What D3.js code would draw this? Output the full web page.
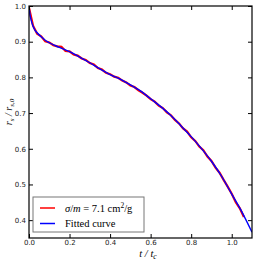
<!DOCTYPE html>
<html><head><meta charset="utf-8">
<script src="https://cdn.jsdelivr.net/npm/d3@7"></script>
<style>body{margin:0;background:#fff}</style>
</head><body>
<svg id="c" width="256" height="262"></svg>
<script>
const xTicks = [0.0, 0.2, 0.4, 0.6, 0.8, 1.0];
const yTicks = [0.4, 0.5, 0.6, 0.7, 0.8, 0.9, 1.0];
const dataT = [0.00,0.02,0.04,0.06,0.08,0.10,0.12,0.14,0.16,0.18,0.20,0.22,0.24,0.26,0.28,0.30,0.32,0.34,0.36,0.38,0.40,0.42,0.44,0.46,0.48,0.50,0.52,0.54,0.56,0.58,0.60,0.62,0.64,0.66,0.68,0.70,0.72,0.74,0.76,0.78,0.80,0.82,0.84,0.86,0.88,0.90,0.92,0.94,0.96,0.98,1.00,1.02,1.04,1.06];
const dataR = [0.995,0.945,0.922,0.915,0.901,0.898,0.890,0.887,0.886,0.874,0.873,0.864,0.861,0.853,0.849,0.840,0.836,0.826,0.822,0.813,0.809,0.802,0.799,0.791,0.786,0.777,0.773,0.764,0.757,0.749,0.739,0.732,0.721,0.714,0.702,0.694,0.681,0.671,0.657,0.648,0.632,0.622,0.606,0.596,0.578,0.566,0.547,0.533,0.513,0.494,0.474,0.450,0.433,0.409];
const fitT = [0.00,0.005,0.01,0.02,0.03,0.04,0.06,0.08,0.10,0.15,0.20,0.25,0.30,0.35,0.40,0.45,0.50,0.55,0.60,0.65,0.70,0.75,0.80,0.85,0.90,0.95,1.00,1.05,1.10];
const fitR = [1.000,0.975,0.962,0.943,0.932,0.925,0.914,0.904,0.897,0.884,0.872,0.857,0.841,0.824,0.808,0.795,0.779,0.762,0.740,0.718,0.693,0.664,0.634,0.601,0.565,0.523,0.473,0.423,0.366];
const seriesNames = ["σ/m = 7.1 cm²/g", "Fitted curve"];

const svg = d3.select("#c");
const L = 29, R = 252, T = 6, B = 238;
const x = d3.scaleLinear().domain([0, 1.1]).range([L, R]);
const y = d3.scaleLinear().domain([0.35, 1.0]).range([B, T]);

svg.append("defs").append("clipPath").attr("id","clip")
  .append("rect").attr("x",L).attr("y",T).attr("width",R-L).attr("height",B-T);

const g = svg.append("g").attr("clip-path","url(#clip)");
g.append("path").datum(dataT.map((t,i)=>[t,dataR[i]]))
  .attr("d", d3.line().x(d=>x(d[0])).y(d=>y(d[1])))
  .attr("fill","none").attr("stroke","#ff0000").attr("stroke-width",2.2);
g.append("path").datum(fitT.map((t,i)=>[t,fitR[i]]))
  .attr("d", d3.line().x(d=>x(d[0])).y(d=>y(d[1])).curve(d3.curveMonotoneX))
  .attr("fill","none").attr("stroke","#0000ff").attr("stroke-width",1.4);

// axes with inward ticks
const font = "DejaVu Sans";
const ax = (sel) => sel.selectAll("text").attr("font-family",font).attr("font-size",7).attr("fill","#222");
svg.append("g").attr("transform",`translate(0,${B})`)
  .call(d3.axisBottom(x).tickValues(xTicks).tickFormat(d3.format(".1f")).tickSizeInner(-4).tickSizeOuter(0).tickPadding(2))
  .call(s=>s.select(".domain").remove()).call(ax);
svg.append("g").attr("transform",`translate(0,${T})`)
  .call(d3.axisTop(x).tickValues(xTicks).tickFormat("").tickSizeInner(-4).tickSizeOuter(0))
  .call(s=>s.select(".domain").remove());
svg.append("g").attr("transform",`translate(${L},0)`)
  .call(d3.axisLeft(y).tickValues(yTicks).tickFormat(d3.format(".1f")).tickSizeInner(-4).tickSizeOuter(0).tickPadding(3))
  .call(s=>s.select(".domain").remove()).call(ax);
svg.append("g").attr("transform",`translate(${R},0)`)
  .call(d3.axisRight(y).tickValues(yTicks).tickFormat("").tickSizeInner(-4).tickSizeOuter(0))
  .call(s=>s.select(".domain").remove());
svg.append("rect").attr("x",L).attr("y",T).attr("width",R-L).attr("height",B-T)
  .attr("fill","none").attr("stroke","#000").attr("stroke-width",1.2);

// axis labels
const xl = svg.append("text").attr("x",148).attr("y",257).attr("text-anchor","middle")
  .attr("font-family","Liberation Serif").attr("font-size",10.5).attr("font-style","italic");
xl.append("tspan").text("t / t");
xl.append("tspan").attr("font-size",7.5).attr("dy",2).text("c");

const yl = svg.append("text").attr("transform","translate(12,112) rotate(-90)").attr("text-anchor","middle")
  .attr("font-family","Liberation Serif").attr("font-size",10).attr("font-style","italic");
yl.append("tspan").text("r");
yl.append("tspan").attr("font-size",7).attr("dy",2).text("s");
yl.append("tspan").attr("dy",-2).text(" / r");
yl.append("tspan").attr("font-size",7).attr("dy",2).text("s,0");

// legend
const lg = svg.append("g");
lg.append("rect").attr("x",33).attr("y",197).attr("width",111).attr("height",35)
  .attr("fill","#fff").attr("stroke","#777").attr("stroke-width",1);
const colors = ["#ff0000","#0000ff"];
seriesNames.forEach((n,i)=>{
  const yy = 208 + i*15.5;
  lg.append("line").attr("x1",40).attr("x2",55).attr("y1",yy).attr("y2",yy)
    .attr("stroke",colors[i]).attr("stroke-width",1.5);
  const t = lg.append("text").attr("x",65).attr("y",yy+3.5).attr("font-family","Liberation Serif").attr("font-size",10.5);
  if (i===0) {
    t.append("tspan").attr("font-style","italic").text("σ");
    t.append("tspan").text("/");
    t.append("tspan").attr("font-style","italic").text("m");
    t.append("tspan").text(" = 7.1 cm");
    t.append("tspan").attr("font-size",7.5).attr("dy",-4).text("2");
    t.append("tspan").attr("dy",4).text("/g");
  } else t.text(n);
});
</script>
</body></html>
